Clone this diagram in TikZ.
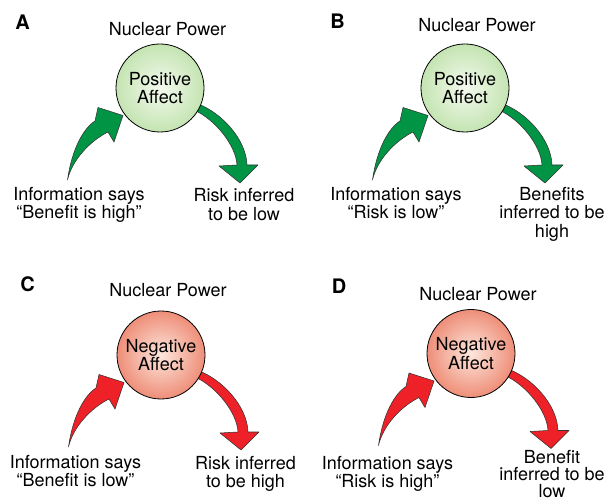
\documentclass[tikz,border=0pt]{standalone}
\usepackage{fontspec}
\setmainfont{TeX Gyre Heros}
\definecolor{posgreen}{RGB}{0,148,68}
\definecolor{negred}{RGB}{237,33,39}
\definecolor{posin}{RGB}{244,250,238}
\definecolor{posout}{RGB}{196,228,178}
\definecolor{negin}{RGB}{253,230,220}
\definecolor{negout}{RGB}{238,142,120}
\begin{document}
\begin{tikzpicture}[x=0.75pt, y=-0.75pt,
    font=\fontsize{13.5}{13.9}\selectfont,
    affect/.style={circle, draw=black, line width=0.6pt, minimum size=66pt,
        inner sep=0pt, align=center},
    positive/.style={affect, inner color=posin, outer color=posout},
    negative/.style={affect, inner color=negin, outer color=negout},
    caption/.style={anchor=north, align=center, inner sep=0pt},
    topic/.style={anchor=base, inner sep=0pt},
    letter/.style={anchor=base west, inner sep=0pt, font=\fontsize{15}{16}\selectfont\bfseries},
    % curved arrow into the circle
    pics/inflow/.style={code={
        \filldraw[fill=#1, draw=black!80, line width=0.4pt, line join=round]
            (-92.5,92) .. controls (-88,60) and (-76,40) .. (-65,33)
            -- (-62,19.5) -- (-37,27.5) -- (-46,54) -- (-52,44)
            .. controls (-70,53) and (-88,72) .. cycle;}},
    % curved arrow out of the circle
    pics/outflow/.style={code={
        \filldraw[fill=#1, draw=black!80, line width=0.4pt, line join=round]
            (38,16) .. controls (60,24) and (86,50) .. (87,77)
            -- (98,77) -- (80,95) -- (59,78) -- (77,77)
            .. controls (76,58) and (56,32) .. (34,22) -- cycle;}}
]
\useasboundingbox (0,0) rectangle (614,502);

% A
\coordinate (cA) at (160,88);
\pic at (cA) {inflow=posgreen};
\pic at (cA) {outflow=posgreen};
\node[positive] (affA) at (cA) {Positive\\Affect};
\node[letter] (labA) at (15,30) {A};
\node[topic] (topA) at (167.5,35.7) {Nuclear Power};
\node[caption] (inA) at (79,186.7) {Information says\\``Benefit is high''};
\node[caption] (outA) at (244,188.3) {Risk inferred\\to be low};

% B
\coordinate (cB) at (465,88);
\pic at (cB) {inflow=posgreen};
\pic at (cB) {outflow=posgreen};
\node[positive] (affB) at (cB) {Positive\\Affect};
\node[letter] (labB) at (330,28.3) {B};
\node[topic] (topB) at (477,31.7) {Nuclear Power};
\node[caption] (inB) at (396,186.7) {Information says\\``Risk is low''};
\node[caption] (outB) at (552,186.7) {Benefits\\inferred to be\\high};

% C
\coordinate (cC) at (161,355);
\pic at (cC) {inflow=negred};
\pic at (cC) {outflow=negred};
\node[negative] (affC) at (cC) {Negative\\Affect};
\node[letter] (labC) at (20,291.7) {C};
\node[topic] (topC) at (168,296.7) {Nuclear Power};
\node[caption] (inC) at (75.5,455) {Information says\\``Benefit is low''};
\node[caption] (outC) at (245.5,455.7) {Risk inferred\\to be high};

% D
\coordinate (cD) at (471,353.5);
\pic at (cD) {inflow=negred};
\pic at (cD) {outflow=negred};
\node[negative] (affD) at (cD) {Negative\\Affect};
\node[letter] (labD) at (331.7,293.3) {D};
\node[topic] (topD) at (478,300.7) {Nuclear Power};
\node[caption] (inD) at (387.5,455.7) {Information says\\``Risk is high''};
\node[caption, font=\fontsize{13.5}{12.7}\selectfont] (outD) at (552,450) {Benefit\\inferred to be\\low};
\end{tikzpicture}
\end{document}
